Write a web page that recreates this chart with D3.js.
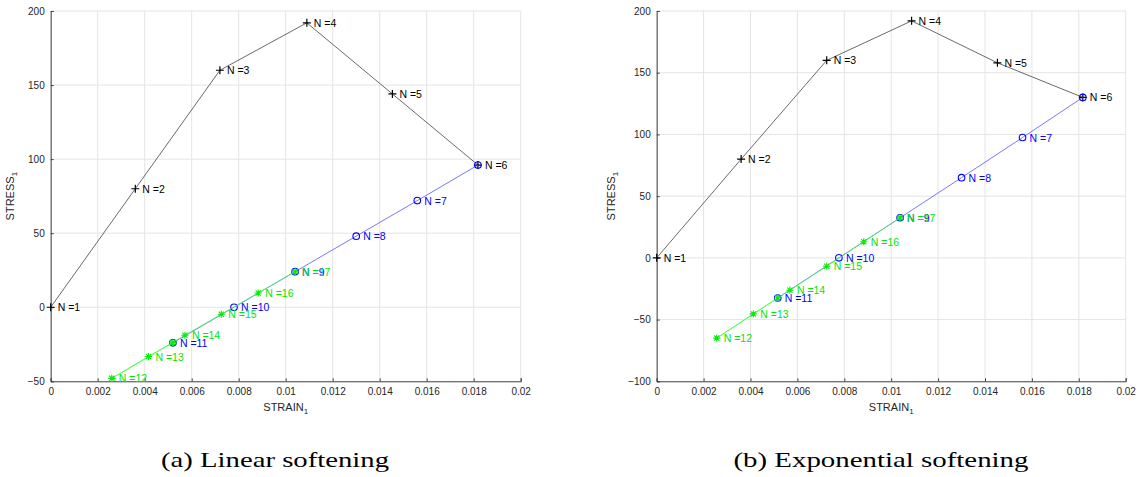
<!DOCTYPE html>
<html>
<head>
<meta charset="utf-8">
<script src="https://cdn.jsdelivr.net/npm/d3@7"></script>
<style>
  body { margin: 0; background: #fff; }
  svg { display: block; }
</style>
</head>
<body>
<div id="chart"></div>
<script>
// Load steps N = 1..17, strain / stress for both softening laws
const stepN = d3.range(1, 18);

const strainLinear = [0, 0.0036, 0.0072, 0.0109, 0.01454, 0.01818, 0.0156, 0.0130, 0.0104,
  0.0078, 0.0052, 0.0026, 0.00416, 0.00571, 0.00726, 0.00883, 0.0104];
const stressLinear = [0, 80, 160, 192, 144, 96, 72, 48, 24,
  0, -24, -48, -33.3, -18.9, -4.7, 9.6, 24];

const strainExp = [0, 0.0036, 0.00725, 0.01087, 0.01453, 0.01817, 0.0156, 0.0130, 0.01038,
  0.00777, 0.00516, 0.00256, 0.00412, 0.00568, 0.00725, 0.00883, 0.01038];
const stressExp = [0, 80, 160, 192, 158, 130, 97.5, 65, 32.5,
  0, -32.5, -65, -45.4, -26.2, -6.8, 13, 32.5];

// which steps belong to each drawn branch (1-based, inclusive)
const loadingSteps = [1, 6];     // black +
const unloadingSteps = [6, 11];  // blue o
const reloadingSteps = [11, 17]; // green *

const xTicks = [0, 0.002, 0.004, 0.006, 0.008, 0.01, 0.012, 0.014, 0.016, 0.018, 0.02];
const yTicksLinear = [-50, 0, 50, 100, 150, 200];
const yTicksExp = [-100, -50, 0, 50, 100, 150, 200];

const captions = ["(a) Linear softening", "(b) Exponential softening"];

const SANS = '"Liberation Sans", Arial, Helvetica, sans-serif';
const SERIF = '"Liberation Serif", "Times New Roman", serif';

const W = 1145, H = 477;
const svg = d3.select("#chart").append("svg")
  .attr("width", W).attr("height", H);

const branches = [
  { steps: loadingSteps, color: "#000000", line: "#444444", marker: "plus" },
  { steps: unloadingSteps, color: "#0000ff", line: "#5555ff", marker: "circle" },
  { steps: reloadingSteps, color: "#00f000", line: "#44ff44", marker: "star" }
];

function labelColor(n) {
  if (n <= 6) return "#000000";
  if (n <= 11) return "#0000ff";
  return "#00e600";
}

function drawMarker(g, type, cx, cy, color) {
  if (type === "plus") {
    g.append("path")
      .attr("d", `M${cx - 4},${cy}H${cx + 4}M${cx},${cy - 4}V${cy + 4}`)
      .attr("stroke", color).attr("stroke-width", 1.2).attr("fill", "none");
  } else if (type === "circle") {
    g.append("circle")
      .attr("cx", cx).attr("cy", cy).attr("r", 3.3)
      .attr("stroke", color).attr("stroke-width", 1.1).attr("fill", "none");
  } else {
    const r = 3.6, d = r * 0.72;
    g.append("path")
      .attr("d", `M${cx - r},${cy}H${cx + r}M${cx},${cy - r}V${cy + r}` +
        `M${cx - d},${cy - d}L${cx + d},${cy + d}M${cx - d},${cy + d}L${cx + d},${cy - d}`)
      .attr("stroke", color).attr("stroke-width", 1.1).attr("fill", "none");
  }
}

function drawPanel(cfg) {
  const x = d3.scaleLinear().domain([0, 0.02]).range([cfg.left, cfg.right]);
  const y = d3.scaleLinear().domain(cfg.yDomain).range([cfg.bottom, cfg.top]);
  const g = svg.append("g");

  // grid
  g.append("g").selectAll("line").data(xTicks).enter().append("line")
    .attr("x1", d => x(d)).attr("x2", d => x(d))
    .attr("y1", cfg.top).attr("y2", cfg.bottom)
    .attr("stroke", "#e4e4e4").attr("stroke-width", 1);
  g.append("g").selectAll("line").data(cfg.yTicks).enter().append("line")
    .attr("x1", cfg.left).attr("x2", cfg.right)
    .attr("y1", d => y(d)).attr("y2", d => y(d))
    .attr("stroke", "#e4e4e4").attr("stroke-width", 1);

  // axes (ticks pointing inward, MATLAB style)
  const xAxis = g.append("g")
    .attr("transform", `translate(0,${cfg.bottom})`)
    .call(d3.axisBottom(x).tickValues(xTicks).tickSize(-3).tickPadding(7)
      .tickFormat(d => d === 0 ? "0" : String(+d.toFixed(3))));
  const yAxis = g.append("g")
    .attr("transform", `translate(${cfg.left},0)`)
    .call(d3.axisLeft(y).tickValues(cfg.yTicks).tickSize(-3).tickPadding(6));
  [xAxis, yAxis].forEach(a => {
    a.attr("font-family", null);
    a.select(".domain").attr("stroke", "#444");
    a.selectAll(".tick line").attr("stroke", "#444");
    a.selectAll(".tick text").attr("fill", "#262626")
      .style("font-family", SANS).style("font-size", "10px");
  });

  // axis labels
  const xl = g.append("text")
    .attr("x", (cfg.left + cfg.right) / 2).attr("y", cfg.bottom + 30)
    .attr("text-anchor", "middle").attr("fill", "#262626")
    .style("font-family", SANS).style("font-size", "11px");
  xl.append("tspan").text("STRAIN");
  xl.append("tspan").attr("dy", 3).style("font-size", "8px").text("1");

  const yl = g.append("text")
    .attr("transform", `translate(${cfg.yLabelX},${(cfg.top + cfg.bottom) / 2}) rotate(-90)`)
    .attr("text-anchor", "middle").attr("fill", "#262626")
    .style("font-family", SANS).style("font-size", "11px");
  yl.append("tspan").text("STRESS");
  yl.append("tspan").attr("dy", 3).style("font-size", "8px").text("1");

  const pts = stepN.map((n, i) => ({ n, sx: cfg.strain[i], sy: cfg.stress[i] }));
  const line = d3.line().x(d => x(d.sx)).y(d => y(d.sy));

  branches.forEach(b => {
    const seg = pts.filter(p => p.n >= b.steps[0] && p.n <= b.steps[1]);
    g.append("path").datum(seg).attr("d", line)
      .attr("fill", "none").attr("stroke", b.line).attr("stroke-width", 0.8);
    seg.forEach(p => drawMarker(g, b.marker, x(p.sx), y(p.sy), b.color));
  });

  // step labels
  g.append("g").selectAll("text").data(pts).enter().append("text")
    .attr("x", d => x(d.sx) + 7).attr("y", d => y(d.sy) + 4)
    .attr("fill", d => labelColor(d.n))
    .style("font-family", SANS).style("font-size", "10.5px")
    .text(d => "N =" + d.n);

  svg.append("text")
    .attr("x", cfg.captionX).attr("y", 467)
    .attr("text-anchor", "middle")
    .attr("textLength", cfg.captionW).attr("lengthAdjust", "spacingAndGlyphs")
    .style("font-family", SERIF).style("font-size", "22px").attr("fill", "#000")
    .text(cfg.caption);
}

drawPanel({
  left: 50.7, right: 520.7, top: 11, bottom: 381.3,
  yDomain: [-50, 200], yTicks: yTicksLinear,
  strain: strainLinear, stress: stressLinear,
  yLabelX: 14, caption: captions[0], captionX: 275, captionW: 228
});

drawPanel({
  left: 656.7, right: 1125.7, top: 11, bottom: 381.3,
  yDomain: [-100, 200], yTicks: yTicksExp,
  strain: strainExp, stress: stressExp,
  yLabelX: 615, caption: captions[1], captionX: 881, captionW: 295
});
</script>
</body>
</html>
